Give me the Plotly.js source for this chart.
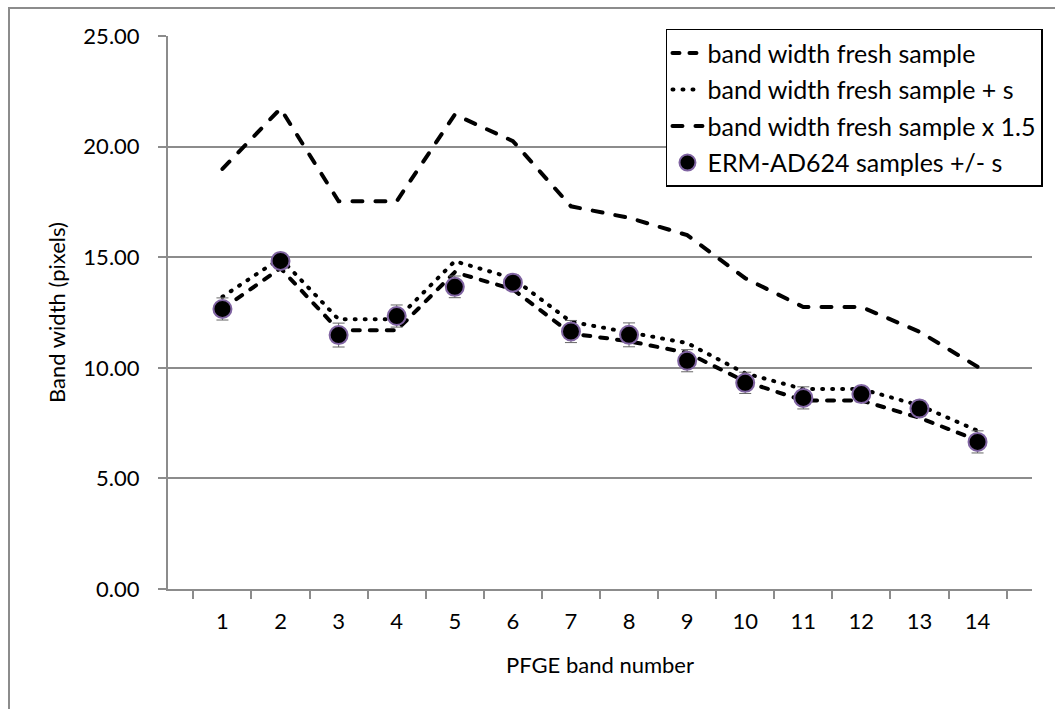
<!DOCTYPE html>
<html>
<head>
<meta charset="utf-8">
<script src="https://cdn.plot.ly/plotly-3.0.1.min.js"></script>
<style>
  html, body { margin: 0; padding: 0; background: #fff; overflow: hidden; }
  #frame { position: absolute; left: 8px; top: 7px; width: 1200px; height: 900px;
           border: 2px solid #8c8c8c; box-sizing: border-box; pointer-events: none; }
  #chart { position: absolute; left: 0; top: 0; width: 1055px; height: 709px; }
  /* rounded dash ends for the line styles */
  path.js-line, .legendlines path { stroke-linecap: round; }
</style>
</head>
<body>
<div id="chart"></div>
<div id="frame"></div>
<script>
// PFGE band numbers
const bands = ['1','2','3','4','5','6','7','8','9','10','11','12','13','14'];

// band width of the fresh sample (pixels)
const freshWidth = [12.66, 14.50, 11.70, 11.70, 14.32, 13.55, 11.55, 11.20, 10.68, 9.38, 8.52, 8.52, 7.74, 6.72];
// fresh sample + s
const freshPlusS = [13.21, 14.95, 12.19, 12.19, 14.82, 14.05, 12.08, 11.60, 11.12, 9.75, 9.04, 9.04, 8.30, 7.16];
// fresh sample x 1.5
const freshTimes15 = [18.99, 21.72, 17.53, 17.53, 21.45, 20.25, 17.30, 16.78, 16.00, 14.05, 12.75, 12.75, 11.63, 10.05];
// ERM-AD624 samples: mean and standard deviation
const ermMean = [12.66, 14.83, 11.48, 12.34, 13.66, 13.85, 11.64, 11.49, 10.32, 9.32, 8.64, 8.81, 8.16, 6.65];
const ermSd = [0.50, 0.35, 0.54, 0.50, 0.49, 0.35, 0.50, 0.54, 0.50, 0.48, 0.50, 0.35, 0.35, 0.50];

const FONT = 'Lato, "Open Sans", sans-serif';
const GRID = '#8c8c8c';

const traces = [
  {
    x: bands, y: freshWidth, type: 'scatter', mode: 'lines',
    name: 'band width fresh sample', legendgroup: 'a',
    line: { color: '#000', width: 4, dash: '7px,10px' }
  },
  {
    x: bands, y: freshPlusS, type: 'scatter', mode: 'lines',
    name: 'band width fresh sample + s', legendgroup: 'b',
    line: { color: '#000', width: 4, dash: '1px,9px' }
  },
  {
    x: bands, y: freshTimes15, type: 'scatter', mode: 'lines',
    name: 'band width fresh sample x 1.5', legendgroup: 'c',
    line: { color: '#000', width: 4, dash: '10px,13px' }
  },
  {
    x: bands, y: ermMean, type: 'scatter', mode: 'markers',
    name: 'ERM-AD624 samples +/- s', legendgroup: 'd',
    marker: { color: '#000', size: 18, line: { color: '#8064a2', width: 2 } },
    error_y: { type: 'data', array: ermSd, visible: true, color: '#666', thickness: 1, width: 6 }
  }
];

const layout = {
  width: 1055, height: 709,
  margin: { l: 168, r: 18, t: 36, b: 120, pad: 0 },
  paper_bgcolor: 'rgba(0,0,0,0)', plot_bgcolor: '#fff',
  font: { family: FONT, size: 22, color: '#000' },
  showlegend: true,
  legend: {
    x: 1.0127, y: 1.013, xanchor: 'right', yanchor: 'top',
    bgcolor: '#fff', bordercolor: '#000', borderwidth: 1.5,
    font: { family: FONT, size: 25, color: '#000' },
    tracegroupgap: 1, traceorder: 'grouped'
  },
  xaxis: {
    type: 'category', tickson: 'boundaries',
    showgrid: false, zeroline: false,
    showline: true, linecolor: GRID, linewidth: 2,
    ticks: 'outside', ticklen: 8, tickcolor: GRID, tickwidth: 2,
    ticklabelstandoff: 12,
    tickfont: { family: FONT, size: 22, color: '#000' },
    title: { text: 'PFGE band number', font: { family: FONT, size: 22, color: '#000' }, standoff: 24 }
  },
  yaxis: {
    range: [0, 25], dtick: 5, tickformat: '.2f',
    showgrid: true, gridcolor: GRID, gridwidth: 2,
    zeroline: false,
    showline: true, linecolor: GRID, linewidth: 2,
    ticks: 'outside', ticklen: 8, tickcolor: GRID, tickwidth: 2,
    ticklabelstandoff: 14,
    tickfont: { family: FONT, size: 22, color: '#000' },
    title: { text: 'Band width (pixels)', font: { family: FONT, size: 22, color: '#000' }, standoff: 12 }
  }
};

Plotly.newPlot('chart', traces, layout, { displayModeBar: false, staticPlot: true });
</script>
</body>
</html>
